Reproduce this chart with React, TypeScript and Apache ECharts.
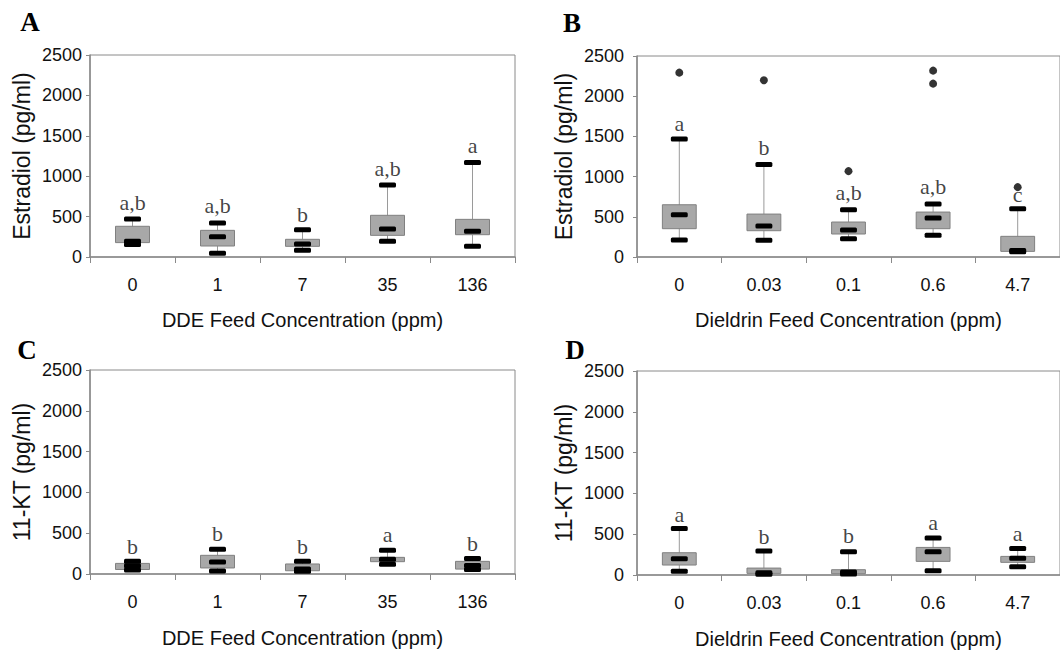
import React, { useEffect, useRef } from "react";
import * as echarts from "echarts";

// ---- Data ----
const ddeCats = ["0", "1", "7", "35", "136"];
const dieldrinCats = ["0", "0.03", "0.1", "0.6", "4.7"];

// [min, q1, median, q3, max]
const estradiolDDE = [
  [155, 178, 195, 380, 470],
  [45, 136, 252, 330, 420],
  [83, 132, 161, 219, 338],
  [194, 268, 346, 516, 891],
  [132, 276, 318, 466, 1171],
];
const estradiolDieldrin = [
  [211, 352, 527, 650, 1469],
  [207, 327, 385, 534, 1151],
  [228, 286, 335, 435, 588],
  [269, 352, 484, 559, 658],
  [65, 70, 80, 257, 600],
];
const ktDDE = [
  [50, 55, 100, 130, 155],
  [37, 74, 147, 229, 302],
  [35, 40, 60, 123, 155],
  [118, 151, 180, 204, 290],
  [55, 60, 105, 155, 190],
];
const ktDieldrin = [
  [45, 122, 199, 273, 570],
  [8, 20, 28, 85, 293],
  [12, 16, 37, 65, 285],
  [53, 167, 285, 338, 452],
  [102, 155, 204, 228, 326],
];

// outliers: [category index, value]
const outliersB = [
  [0, 2293],
  [1, 2198],
  [2, 1068],
  [3, 2318],
  [3, 2156],
  [4, 869],
];

// significance letters and the value at which they sit
const lettersA = ["a,b", "a,b", "b", "a,b", "a"];
const lettersAY = [680, 640, 524, 1093, 1382];
const lettersB = ["a", "b", "a,b", "a,b", "c"];
const lettersBY = [1664, 1366, 807, 877, 782];
const lettersC = ["b", "b", "b", "a", "b"];
const lettersCY = [331, 494, 343, 478, 372];
const lettersD = ["a", "b", "b", "a", "a"];
const lettersDY = [741, 468, 484, 647, 509];

const yTicks = { min: 0, max: 2500, interval: 500 };

const SANS = "Liberation Sans, Arial, sans-serif";
const SERIF = "Liberation Serif, Times New Roman, serif";
const AXIS = "#8a8a8a";

function renderBox(params: any, api: any) {
  const x = api.value(0);
  const mn = api.coord([x, api.value(1)]);
  const q1 = api.coord([x, api.value(2)]);
  const md = api.coord([x, api.value(3)]);
  const q3 = api.coord([x, api.value(4)]);
  const mx = api.coord([x, api.value(5)]);
  const band = api.size([1, 0])[0];
  const bw = band * 0.4;
  const cw = band * 0.2;
  const ch = 5;
  const cx = mn[0];
  const bar = (p: number[]) => ({
    type: "rect",
    shape: { x: cx - cw / 2, y: p[1] - ch / 2, width: cw, height: ch, r: 1.5 },
    style: { fill: "#000" },
  });
  return {
    type: "group",
    children: [
      {
        type: "line",
        shape: { x1: cx, y1: mx[1], x2: cx, y2: mn[1] },
        style: { stroke: "#9a9a9a", lineWidth: 1 },
      },
      {
        type: "rect",
        shape: { x: cx - bw / 2, y: q3[1], width: bw, height: q1[1] - q3[1] },
        style: { fill: "#a8a8a8", stroke: "#808080", lineWidth: 1 },
      },
      bar(mx),
      bar(mn),
      bar(md),
    ],
  };
}

export default function App() {
  const ref = useRef<HTMLDivElement>(null);
  useEffect(() => {
    if (!ref.current) return;
    const chart = echarts.init(ref.current, undefined, { renderer: "svg" });

    const grids = [
      { left: 90, top: 55, width: 425, height: 202 },
      { left: 637, top: 56, width: 424, height: 201 },
      { left: 90, top: 370, width: 425, height: 204 },
      { left: 637, top: 371, width: 424, height: 204 },
    ];
    const cats = [ddeCats, dieldrinCats, ddeCats, dieldrinCats];
    const xNames = [
      "DDE Feed Concentration (ppm)",
      "Dieldrin Feed Concentration (ppm)",
      "DDE Feed Concentration (ppm)",
      "Dieldrin Feed Concentration (ppm)",
    ];
    const yNames = ["Estradiol (pg/ml)", "Estradiol (pg/ml)", "11-KT (pg/ml)", "11-KT (pg/ml)"];
    const yNameGap = [57, 62, 57, 62];
    const yLabelMargin = [8, 13, 8, 13];
    const boxes = [estradiolDDE, estradiolDieldrin, ktDDE, ktDieldrin];
    const letters = [lettersA, lettersB, lettersC, lettersD];
    const lettersY = [lettersAY, lettersBY, lettersCY, lettersDY];

    const series: any[] = [];
    boxes.forEach((b, i) => {
      series.push({
        type: "custom",
        xAxisIndex: i,
        yAxisIndex: i,
        renderItem: renderBox,
        encode: { x: 0, y: [1, 2, 3, 4, 5] },
        data: b.map((v, k) => [k, ...v]),
        z: 2,
      });
      series.push({
        type: "scatter",
        xAxisIndex: i,
        yAxisIndex: i,
        symbol: "circle",
        symbolSize: 1,
        itemStyle: { color: "rgba(0,0,0,0)" },
        label: {
          show: true,
          position: "inside",
          formatter: (p: any) => p.data[2],
          fontFamily: SERIF,
          fontSize: 22,
          color: "#111",
        },
        data: letters[i].map((t, k) => [k, lettersY[i][k], t]),
        z: 3,
      });
    });
    series.push({
      type: "scatter",
      xAxisIndex: 1,
      yAxisIndex: 1,
      symbol: "circle",
      symbolSize: 8,
      itemStyle: { color: "#000" },
      data: outliersB,
      z: 4,
    });

    const letterStyle = (t: string) => ({
      text: t,
      fontFamily: SERIF,
      fontWeight: "bold",
      fontSize: 27,
      fill: "#000",
      align: "center",
      verticalAlign: "middle",
    });

    chart.setOption({
      animation: false,
      backgroundColor: "#fff",
      grid: grids.map((g) => ({ ...g, show: true, borderColor: AXIS, borderWidth: 1 })),
      xAxis: grids.map((g, i) => ({
        type: "category",
        gridIndex: i,
        data: cats[i],
        name: xNames[i],
        nameLocation: "middle",
        nameGap: i < 2 ? 53 : 54,
        nameTextStyle: { fontFamily: SANS, fontSize: 20, color: "#111" },
        axisLine: { lineStyle: { color: AXIS, width: 1.5 } },
        axisTick: { show: true, length: 6, lineStyle: { color: AXIS } },
        axisLabel: { margin: 19, fontFamily: SANS, fontSize: 18, color: "#111" },
        splitLine: { show: false },
      })),
      yAxis: grids.map((g, i) => ({
        type: "value",
        gridIndex: i,
        ...yTicks,
        name: yNames[i],
        nameLocation: "middle",
        nameGap: yNameGap[i],
        nameTextStyle: { fontFamily: SANS, fontSize: 23, color: "#111" },
        axisLine: { show: true, lineStyle: { color: AXIS, width: 1.5 } },
        axisTick: { show: true, length: 4, lineStyle: { color: AXIS } },
        axisLabel: {
          margin: yLabelMargin[i],
          fontFamily: SANS,
          fontSize: 18,
          color: "#111",
          formatter: (v: number) => String(v),
        },
        splitLine: { show: false },
      })),
      series,
      graphic: [
        { type: "text", x: 30, y: 22, style: letterStyle("A") },
        { type: "text", x: 572, y: 23, style: letterStyle("B") },
        { type: "text", x: 27, y: 350, style: letterStyle("C") },
        { type: "text", x: 575, y: 350, style: letterStyle("D") },
      ],
    });
    return () => chart.dispose();
  }, []);
  return (
    <div
      ref={ref}
      style={{ position: "absolute", left: 0, top: 0, width: 1060, height: 656 }}
    />
  );
}
